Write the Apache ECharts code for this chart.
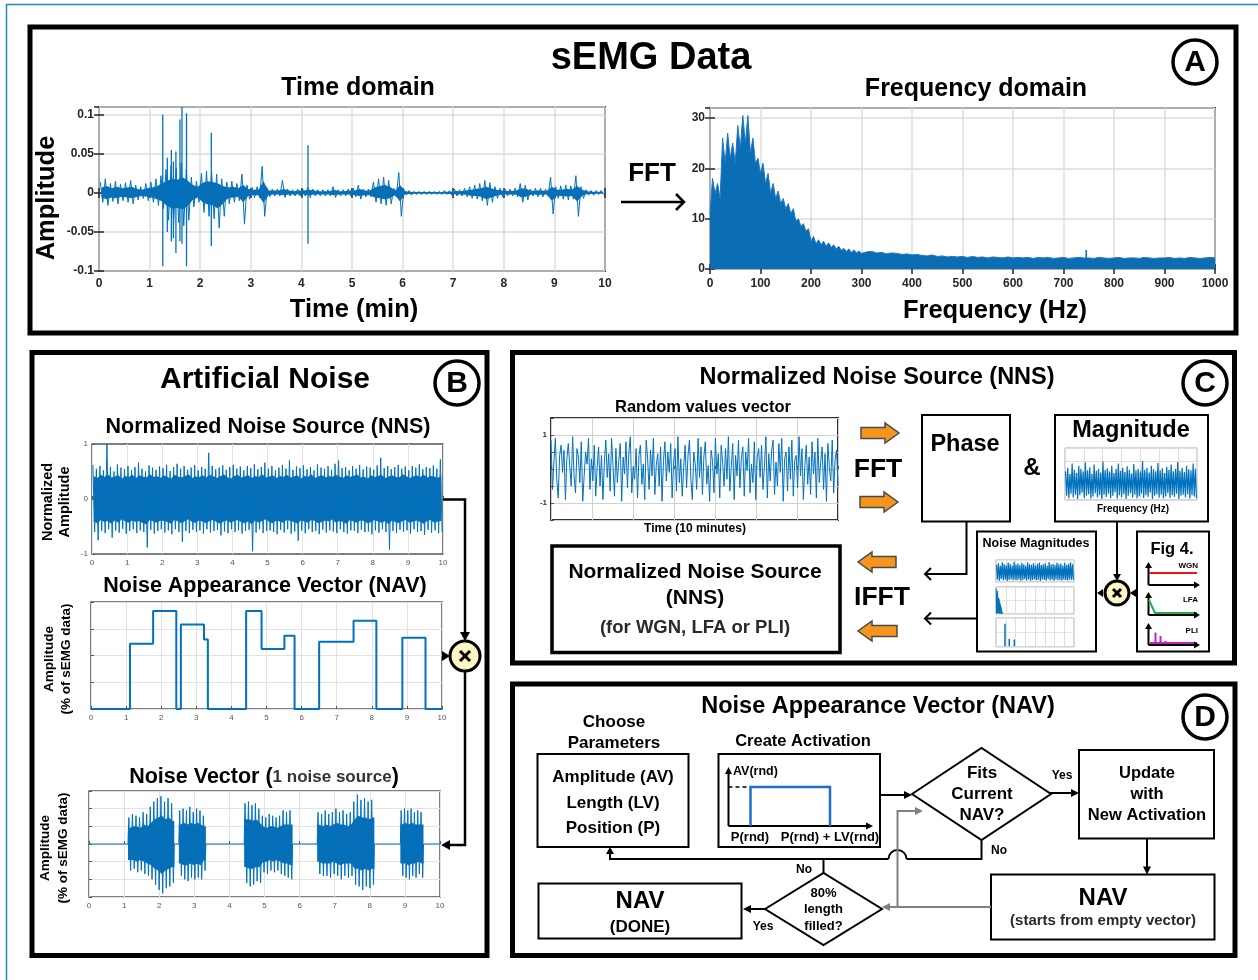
<!DOCTYPE html>
<html><head><meta charset="utf-8">
<script src="https://cdn.jsdelivr.net/npm/echarts@6/dist/echarts.min.js"></script>
<style>html,body{margin:0;padding:0;background:#fff}#c{width:1258px;height:980px}</style>
</head><body><div id="c"></div>
<script>
// ================= DATA =================
// Panel A – sEMG, time domain: per-0.1-min bin, peak envelope and dense-core envelope (units of 1e-3)
const semgBinMin = 0.1;
const semgHi = [
 14,18,12,15,11,13,16,10,8,12,
 14,18,22,30,35,32,38,30,20,15,
 25,28,27,24,18,14,15,12,24,10,
 7,8,34,6,5,5,16,5,4,5,
 5,7,5,4,4,4,8,4,4,5,
 6,10,5,5,14,18,20,16,6,26,
 4,3,2,2,2,2,2,2,3,3,
 5,4,6,8,10,12,16,13,8,6,
 5,5,6,12,10,5,6,6,5,20,
 8,9,10,9,22,8,4,3,3,3];
const semgLo = [
 -12,-16,-11,-14,-10,-12,-14,-9,-7,-10,
 -12,-16,-20,-35,-40,-38,-42,-35,-18,-12,
 -25,-30,-33,-45,-30,-14,-12,-10,-40,-8,
 -6,-6,-30,-5,-4,-4,-6,-4,-4,-4,
 -4,-6,-4,-4,-4,-4,-6,-4,-4,-4,
 -5,-8,-5,-5,-12,-14,-16,-14,-5,-30,
 -3,-3,-2,-2,-2,-2,-2,-2,-2,-3,
 -4,-4,-5,-7,-8,-10,-16,-12,-7,-5,
 -4,-4,-5,-12,-9,-4,-5,-5,-4,-27,
 -7,-8,-9,-8,-30,-7,-3,-3,-2,-2];
const semgCoreHi = [
 7,9,6,8,6,7,8,5,4,6,
 7,9,12,16,18,17,20,16,10,8,
 13,15,14,12,9,7,8,6,10,5,
 4,4,15,3,3,3,5,3,2,3,
 3,4,3,2,2,2,4,2,2,3,
 3,5,3,3,7,9,10,8,3,10,
 2,1.5,1,1,1,1,1,1,1.5,1.5,
 2.5,2,3,4,5,6,8,6,4,3,
 2.5,2.5,3,6,5,2.5,3,3,2.5,8,
 4,4.5,5,4.5,9,4,2,1.5,1.5,1.5];
const semgCoreLo = [
 -6,-8,-6,-7,-5,-6,-7,-5,-4,-5,
 -6,-8,-11,-17,-20,-19,-21,-17,-9,-6,
 -12,-15,-16,-20,-14,-7,-6,-5,-12,-4,
 -3,-3,-13,-3,-2,-2,-3,-2,-2,-2,
 -2,-3,-2,-2,-2,-2,-3,-2,-2,-2,
 -3,-4,-3,-3,-6,-7,-8,-7,-3,-11,
 -1.5,-1.5,-1,-1,-1,-1,-1,-1,-1,-1.5,
 -2,-2,-2.5,-3.5,-4,-5,-8,-6,-3.5,-2.5,
 -2,-2,-2.5,-6,-4.5,-2,-2.5,-2.5,-2,-10,
 -3.5,-4,-4.5,-4,-11,-3.5,-1.5,-1.5,-1,-1];
// isolated spikes (time in min, max, min)
const semgSpikeT  = [1.26, 1.35, 1.43, 1.47, 1.52, 1.60, 1.64, 1.73, 2.22, 4.13];
const semgSpikeHi = [0.100, 0.045, 0.055, 0.040, 0.053, 0.094, 0.110, 0.102, 0.077, 0.061];
const semgSpikeLo = [-0.094, -0.050, -0.062, -0.058, -0.077, -0.062, -0.065, -0.094, -0.068, -0.065];

// Panel A – frequency domain magnitude envelope
const freqFineStepHz = 5;      // 0..300 Hz
const freqFine = [11,18,15,17,14,26,21,27,22,25,21,28.5,24,30.5,25,30.5,23,26,21,22,
 19,21,17,19,15,17,14,15.5,13,14,12,13,11,12,9.5,10,8.5,9,7.5,8,
 5.5,6.5,5,5.8,4.8,5.5,4.5,5.2,4.3,4.8,4,4.5,3.7,4.1,3.5,4,3.3,3.8,3.2,3.6,3.1];
const freqCoarseStartHz = 310, freqCoarseStepHz = 10;   // 310..1000 Hz
const freqCoarse = [3.4,3.5,3.2,3.3,3.0,3.2,3.1,2.9,3.0,2.8,
 2.9,2.7,2.6,2.8,2.5,2.6,2.4,2.5,2.4,2.5,
 2.3,2.5,2.3,2.4,2.2,2.4,2.3,2.2,2.4,2.2,
 2.3,2.2,2.3,2.1,2.3,2.2,2.3,2.1,2.2,2.3,
 2.1,2.2,2.3,2.2,2.2,2.1,2.3,2.2,2.1,2.2,
 2.3,2.1,2.2,2.2,2.1,2.3,2.2,2.1,2.2,2.2,
 2.3,2.1,2.2,2.1,2.3,2.2,2.1,2.2,2.3,2.2];
const freqSpikeHz = [745];
const freqSpikeMag = [3.8];

// Panel B – Normalized Noise Source (per 0.1 min): peaks and dense core
const nnsBinMin = 0.1;
const nnsHi = [
 0.62,0.55,0.60,0.52,1.00,0.58,0.50,0.63,0.57,0.54,
 0.60,0.52,0.58,0.66,0.55,0.50,0.61,0.57,0.53,0.59,
 0.56,0.62,0.51,0.58,0.64,0.55,0.60,0.53,0.57,0.62,
 0.52,0.58,0.55,0.84,0.60,0.54,0.57,0.61,0.53,0.58,
 0.62,0.55,0.59,0.52,0.60,0.56,0.63,0.54,0.58,0.66,
 0.55,0.60,0.52,0.57,0.62,0.55,0.70,0.53,0.59,0.56,
 0.61,0.54,0.58,0.52,0.63,0.57,0.55,0.60,0.53,0.64,
 0.70,0.56,0.58,0.52,0.60,0.55,0.62,0.54,0.59,0.57,
 0.53,0.61,0.75,0.56,0.60,0.54,0.58,0.62,0.55,0.59,
 0.52,0.60,0.57,0.63,0.54,0.58,0.56,0.61,0.55,0.72];
const nnsLo = [
 -0.60,-0.75,-0.58,-0.62,-0.55,-0.70,-0.57,-0.61,-0.54,-0.63,
 -0.58,-0.55,-0.62,-0.57,-0.60,-0.88,-0.56,-0.63,-0.58,-0.55,
 -0.61,-0.57,-0.64,-0.55,-0.60,-0.78,-0.58,-0.62,-0.56,-0.60,
 -0.57,-0.63,-0.55,-0.61,-0.58,-0.56,-0.66,-0.59,-0.62,-0.55,
 -0.60,-0.57,-0.63,-0.58,-0.56,-0.95,-0.61,-0.55,-0.62,-0.58,
 -0.57,-0.60,-0.64,-0.56,-0.61,-0.55,-0.63,-0.59,-0.76,-0.57,
 -0.62,-0.55,-0.60,-0.58,-0.64,-0.56,-0.61,-0.57,-0.59,-0.62,
 -0.55,-0.60,-0.63,-0.57,-0.58,-0.62,-0.56,-0.60,-0.59,-0.64,
 -0.57,-0.61,-0.55,-0.60,-0.92,-0.58,-0.62,-0.56,-0.60,-0.57,
 -0.63,-0.55,-0.60,-0.58,-0.65,-0.56,-0.61,-0.57,-0.62,-0.60];
const nnsCoreHi = [
 0.42,0.38,0.44,0.40,0.45,0.39,0.41,0.43,0.37,0.42,
 0.40,0.44,0.38,0.43,0.41,0.39,0.45,0.40,0.42,0.38,
 0.43,0.40,0.37,0.44,0.41,0.39,0.42,0.45,0.38,0.41,
 0.40,0.43,0.39,0.44,0.42,0.38,0.41,0.45,0.40,0.37,
 0.42,0.44,0.39,0.41,0.43,0.38,0.42,0.40,0.45,0.39,
 0.41,0.43,0.38,0.42,0.40,0.44,0.39,0.41,0.43,0.37,
 0.42,0.40,0.45,0.38,0.41,0.43,0.39,0.42,0.40,0.44,
 0.41,0.38,0.43,0.40,0.42,0.45,0.39,0.41,0.37,0.43,
 0.40,0.42,0.44,0.38,0.41,0.43,0.40,0.39,0.45,0.42,
 0.38,0.41,0.43,0.40,0.44,0.39,0.42,0.41,0.38,0.43];
const nnsCoreLo = [
 -0.41,-0.44,-0.38,-0.42,-0.40,-0.45,-0.39,-0.43,-0.37,-0.41,
 -0.43,-0.39,-0.42,-0.40,-0.44,-0.46,-0.38,-0.41,-0.43,-0.39,
 -0.40,-0.42,-0.45,-0.38,-0.41,-0.44,-0.40,-0.37,-0.42,-0.43,
 -0.39,-0.41,-0.44,-0.40,-0.38,-0.42,-0.45,-0.41,-0.39,-0.43,
 -0.40,-0.38,-0.42,-0.44,-0.41,-0.46,-0.39,-0.43,-0.40,-0.37,
 -0.42,-0.44,-0.39,-0.41,-0.43,-0.38,-0.40,-0.42,-0.45,-0.39,
 -0.41,-0.43,-0.38,-0.40,-0.44,-0.42,-0.39,-0.41,-0.37,-0.43,
 -0.40,-0.42,-0.45,-0.38,-0.41,-0.43,-0.39,-0.40,-0.44,-0.42,
 -0.38,-0.41,-0.43,-0.40,-0.46,-0.39,-0.42,-0.44,-0.40,-0.38,
 -0.43,-0.41,-0.39,-0.42,-0.45,-0.40,-0.38,-0.43,-0.41,-0.40];

// Panel B – Noise Appearance Vector (step function: change times, level in grid divisions)
const navTimes  = [0, 1.11, 1.77, 2.43, 2.56, 3.22, 3.33, 4.42, 4.86, 5.51, 5.80, 6.50, 7.48, 8.13, 8.87, 9.53, 10];
const navLevels = [0, 2.44, 3.66, 0,    3.16, 2.60, 0,    3.66, 2.24, 2.74, 0,    2.51, 3.30, 0,    2.66, 0,    0];

// Panel B – Noise Vector bursts (start/end in min; peak and core envelopes per sub-bin, grid divisions)
const nvStart = [1.11, 2.56, 4.42, 6.50, 8.87];
const nvEnd   = [2.43, 3.33, 5.80, 8.13, 9.53];
const nvHi = [
 [1.5,1.7,1.6,1.5,1.8,1.7,2.1,2.4,2.6,2.7,2.4,2.6,2.3],
 [1.9,2.0,1.9,2.1,1.8,2.0,1.9,1.6],
 [2.3,2.4,2.2,2.3,2.0,1.6,1.5,1.7,1.6,1.5,1.6,1.9,1.8,1.9],
 [1.8,1.7,1.9,1.7,1.8,2.0,1.8,1.9,1.7,1.8,2.4,2.8,2.5,2.6,2.4,2.5],
 [1.9,2.0,1.9,2.0,1.8,1.9,1.8]];
const nvLo = [
 [-1.5,-1.4,-1.6,-1.5,-1.7,-1.8,-2.0,-2.3,-2.6,-2.8,-2.5,-2.4,-2.2],
 [-1.8,-2.0,-2.1,-1.9,-2.0,-1.9,-2.0,-1.5],
 [-2.2,-2.4,-2.3,-2.1,-2.2,-1.6,-1.7,-1.5,-1.6,-1.5,-1.7,-1.8,-1.9,-2.0],
 [-1.7,-1.8,-1.8,-1.9,-1.7,-1.8,-2.0,-1.8,-1.9,-1.8,-2.3,-2.4,-2.6,-2.4,-2.5,-2.3],
 [-1.8,-1.9,-2.0,-1.8,-1.9,-1.7,-1.9]];
const nvCoreHi = [
 [0.9,1.0,1.0,0.9,1.1,1.0,1.2,1.4,1.5,1.6,1.4,1.5,1.3],
 [1.1,1.2,1.1,1.2,1.1,1.2,1.1,1.0],
 [1.4,1.4,1.3,1.4,1.2,1.0,0.9,1.0,1.0,0.9,1.0,1.1,1.1,1.1],
 [1.1,1.0,1.1,1.0,1.1,1.2,1.1,1.1,1.0,1.1,1.4,1.6,1.5,1.5,1.4,1.5],
 [1.1,1.2,1.1,1.2,1.1,1.1,1.1]];
const nvCoreLo = [
 [-0.9,-0.9,-1.0,-0.9,-1.0,-1.1,-1.2,-1.4,-1.5,-1.7,-1.5,-1.4,-1.3],
 [-1.1,-1.2,-1.2,-1.1,-1.2,-1.1,-1.2,-0.9],
 [-1.3,-1.4,-1.4,-1.3,-1.3,-1.0,-1.0,-0.9,-1.0,-0.9,-1.0,-1.1,-1.1,-1.2],
 [-1.0,-1.1,-1.1,-1.1,-1.0,-1.1,-1.2,-1.1,-1.1,-1.1,-1.4,-1.4,-1.5,-1.4,-1.5,-1.4],
 [-1.1,-1.1,-1.2,-1.1,-1.1,-1.0,-1.1]];

// Panel C – random values vector
const randVals = [
 0.85,-0.6,0.2,0.9,-0.3,-0.85,0.4,0.7,-0.1,0.55,-0.9,0.3,0.75,0.1,-0.5,0.95,-0.2,-0.7,0.6,0.35,
 -0.4,0.8,-0.95,-0.2,0.5,0.15,0.9,-0.6,0.3,-0.35,0.7,-0.8,0.05,0.65,-0.5,0.4,-0.9,0.2,0.85,-0.25,
 0.45,-0.65,0.9,0.1,-0.8,0.6,-0.4,0.25,0.75,-0.95,0.35,-0.15,0.8,-0.55,0.5,0.95,-0.7,0.05,-0.3,0.6,
 -0.85,0.4,0.7,-0.45,0.15,-0.9,0.85,0.3,-0.6,0.55,-0.2,0.9,-0.75,0.1,0.45,-0.5,0.65,-0.95,0.25,0.8,
 -0.35,0.5,-0.1,0.75,-0.85,0.2,0.6,-0.65,0.95,-0.4,0.3,-0.8,0.05,0.7,-0.55,0.4,0.85,-0.3,-0.9,0.5,
 0.15,-0.6,0.9,-0.25,0.65,-0.75,0.35,0.8,-0.45,0.1,-0.95,0.55,0.25,-0.7,0.9,-0.15,0.45,-0.85,0.7,0.2,
 -0.5,0.6,-0.3,0.95,-0.65,0.05,0.75,-0.9,0.4,-0.2,0.85,-0.55,0.3,0.65,-0.8,0.5,-0.05,0.9,-0.7,0.15,
 -0.4,0.8,-0.9,0.35,0.6,-0.25,0.7,-0.6,0.1,0.95,-0.85,0.45,-0.35,0.55,0.85,-0.75,0.2,-0.5,0.75,-0.1,
 0.9,-0.95,0.3,0.5,-0.65,0.65,-0.3,0.85,-0.8,0.25,0.4,-0.55,0.95,-0.2,0.6,-0.9,0.1,0.7,-0.45,0.35,
 -0.75,0.8,-0.15,0.5,-0.85,0.9,-0.4,0.2,0.65,-0.6,0.45,-0.95,0.75,0.05,-0.35,0.85,-0.7,0.3,0.55,-0.5];
// Panel C – magnitude inset (normalized)
const magHi = [0.55,0.62,0.50,0.70,0.58,0.52,0.66,0.60,0.55,0.72,0.57,0.63,0.50,0.68,0.56,0.60,0.53,0.74,0.58,0.61,
 0.55,0.66,0.52,0.60,0.70,0.56,0.62,0.54,0.65,0.58,0.51,0.69,0.57,0.60,0.55,0.75,0.58,0.62,0.53,0.66,
 0.59,0.55,0.71,0.57,0.61,0.52,0.64,0.58,0.68,0.55,0.60,0.73,0.56,0.62,0.54,0.66,0.59,0.57,0.70,0.60];
const magLo = [0.08,0.03,0.12,0.05,0.10,0.02,0.09,0.14,0.04,0.08,0.11,0.03,0.07,0.13,0.05,0.09,0.02,0.10,0.06,0.12,
 0.04,0.08,0.15,0.03,0.09,0.06,0.11,0.02,0.08,0.13,0.05,0.10,0.03,0.07,0.12,0.04,0.09,0.06,0.14,0.02,
 0.08,0.11,0.05,0.10,0.03,0.07,0.13,0.04,0.09,0.06,0.12,0.02,0.08,0.10,0.05,0.11,0.03,0.09,0.07,0.04];
// Panel C – noise magnitudes (WGN, LFA, PLI), normalized
const wgnHi = [0.78,0.85,0.74,0.90,0.80,0.76,0.88,0.82,0.75,0.92,0.79,0.84,0.77,0.87,0.80,0.74,0.90,0.81,0.78,0.86,
 0.75,0.83,0.89,0.77,0.80,0.85,0.74,0.91,0.79,0.82,0.76,0.88,0.80,0.84,0.75,0.87,0.78,0.83,0.90,0.80];
const wgnLo = [0.10,0.06,0.14,0.08,0.12,0.05,0.09,0.13,0.07,0.10,0.08,0.12,0.06,0.09,0.14,0.07,0.11,0.06,0.09,0.13,
 0.08,0.10,0.05,0.12,0.09,0.07,0.13,0.08,0.10,0.06,0.12,0.08,0.09,0.06,0.11,0.09,0.07,0.12,0.09,0.10];
const lfaSpanX = 0.09;
const lfaHi = [0.95,0.75,0.85,0.60,0.55,0.45,0.35,0.25,0.12,0.05];
const lfaLo = [0.02,0.05,0.02,0.04,0.03,0.02,0.03,0.02,0.01,0.01];
const pliFreq = [0.115, 0.17, 0.235];
const pliAmp  = [0.80, 0.28, 0.26];

// ================= BUILD =================
const BLUE = '#0072BD';
const FILL = '#0b6db4';
const FONT = '"Liberation Sans", Arial, Helvetica, sans-serif';

function zigzag(t0, step, hi, lo, scale) {
  const out = [];
  for (let i = 0; i < hi.length; i++) {
    out.push([t0 + step * (i + 0.25), hi[i] * scale], [t0 + step * (i + 0.75), lo[i] * scale]);
  }
  return out;
}
function centers(t0, step, n) { const c = []; for (let i = 0; i < n; i++) c.push(t0 + step * (i + 0.5)); return c; }

const semgData = zigzag(0, semgBinMin, semgHi, semgLo, 0.001);
const semgX = centers(0, semgBinMin, semgHi.length);
const freqData = freqFine.map((v, i) => [i * freqFineStepHz, v])
  .concat(freqCoarse.map((v, i) => [freqCoarseStartHz + i * freqCoarseStepHz, v]));
const nnsData = zigzag(0, nnsBinMin, nnsHi, nnsLo, 1);
const nnsX = centers(0, nnsBinMin, nnsHi.length);
const navData = navTimes.map((t, i) => [t, navLevels[i]]);
const nvData = [[0, 0]];
const nvBands = [];
nvStart.forEach((s, b) => {
  const e = nvEnd[b], n = nvHi[b].length, step = (e - s) / n;
  nvData.push([s, 0]);
  zigzag(s, step, nvHi[b], nvLo[b], 1).forEach(p => nvData.push(p));
  nvData.push([e, 0]);
  const hs = nvCoreHi[b], ls = nvCoreLo[b];
  nvBands.push({x: [s].concat(centers(s, step, n), [e]), hi: [hs[0]].concat(hs, [hs[n - 1]]), lo: [ls[0]].concat(ls, [ls[n - 1]])});
});
nvData.push([10, 0]);
const randData = randVals.map((v, i) => [i * 7 / (randVals.length - 1), v]);
const magData = zigzag(0, 7 / magHi.length, magHi, magLo, 1);
const wgnData = zigzag(0, 1 / wgnHi.length, wgnHi, wgnLo, 1);
const lfaData = zigzag(0, lfaSpanX / lfaHi.length, lfaHi, lfaLo, 1);

// ---- grids / axes ----
const grids = [], xAxes = [], yAxes = [], series = [];
const lblA = {fontSize: 12, fontWeight: 'bold', color: '#262626', fontFamily: FONT};
const lblB = {fontSize: 8, color: '#555', fontFamily: FONT};
function grid(left, top, width, height, border, bw) {
  grids.push({left, top, width, height, show: true, borderColor: border, borderWidth: bw, containLabel: false});
  return grids.length - 1;
}
function axis(list, o) { list.push(Object.assign({type: 'value', axisLine: {show: false}}, o)); return list.length - 1; }
const tickA = {inside: true, length: 5, lineStyle: {color: '#262626', width: 1.5}};
const splitA = {show: true, lineStyle: {color: '#dcdcdc', width: 1.5}};

// A time
const gT = grid(99, 107, 506, 164, '#262626', 2);
const xT = axis(xAxes, {gridIndex: gT, min: 0, max: 10, interval: 1, axisTick: tickA, splitLine: splitA,
  axisLabel: Object.assign({margin: 7}, lblA)});
axis(xAxes, {gridIndex: gT, position: 'top', min: 0, max: 10, interval: 1, axisTick: tickA, splitLine: {show: false}, axisLabel: {show: false}});
const yT = axis(yAxes, {gridIndex: gT, min: -0.1, max: 0.11, interval: 0.05, axisTick: tickA, splitLine: splitA,
  axisLabel: Object.assign({margin: 5, showMaxLabel: false, formatter: v => (v > 0.105 ? '' : String(+v.toFixed(2)))}, lblA)});
axis(yAxes, {gridIndex: gT, position: 'right', min: -0.1, max: 0.11, interval: 0.05, axisTick: tickA, splitLine: {show: false}, axisLabel: {show: false}});
// A freq
const gF = grid(710, 108, 505, 161, '#262626', 2);
const xF = axis(xAxes, {gridIndex: gF, min: 0, max: 1000, interval: 100, axisTick: tickA, splitLine: splitA,
  axisLabel: Object.assign({margin: 9, formatter: v => String(v)}, lblA)});
axis(xAxes, {gridIndex: gF, position: 'top', min: 0, max: 1000, interval: 100, axisTick: tickA, splitLine: {show: false}, axisLabel: {show: false}});
const yF = axis(yAxes, {gridIndex: gF, min: 0, max: 32, interval: 10, axisTick: tickA, splitLine: splitA,
  axisLabel: Object.assign({margin: 5, showMaxLabel: false, formatter: v => (v > 31 ? '' : String(v))}, lblA)});
axis(yAxes, {gridIndex: gF, position: 'right', min: 0, max: 32, interval: 10, axisTick: tickA, splitLine: {show: false}, axisLabel: {show: false}});

const tickB = {inside: true, length: 3, lineStyle: {color: '#555', width: 1}};
const splitB = {show: true, lineStyle: {color: '#e2e2e2', width: 1}};
// B NNS
const gN = grid(92, 444, 351, 110, '#555', 1.5);
const xN = axis(xAxes, {gridIndex: gN, min: 0, max: 10, interval: 1, axisTick: tickB, splitLine: splitB, axisLabel: Object.assign({margin: 5}, lblB)});
const yN = axis(yAxes, {gridIndex: gN, min: -1, max: 1, interval: 1, axisTick: tickB, splitLine: {show: false}, axisLabel: Object.assign({margin: 4}, lblB)});
// B NAV
const gV = grid(91, 602, 351, 107, '#555', 1.5);
const xV = axis(xAxes, {gridIndex: gV, min: 0, max: 10, interval: 1, axisTick: tickB, splitLine: splitB, axisLabel: Object.assign({margin: 5}, lblB)});
const yV = axis(yAxes, {gridIndex: gV, min: 0, max: 4, interval: 1, axisTick: tickB, splitLine: splitB, axisLabel: {show: false}});
// B Noise vector
const gNV = grid(89, 791, 351, 106, '#555', 1.5);
const xNV = axis(xAxes, {gridIndex: gNV, min: 0, max: 10, interval: 1, axisTick: tickB, splitLine: splitB, axisLabel: Object.assign({margin: 5}, lblB)});
const yNV = axis(yAxes, {gridIndex: gNV, min: -3, max: 3, interval: 1, axisTick: tickB, splitLine: splitB, axisLabel: {show: false}});
// C random
const gR = grid(551, 418, 287, 102, '#333', 2);
const xR = axis(xAxes, {gridIndex: gR, min: 0, max: 7, interval: 1, axisTick: tickB, splitLine: {show: true, lineStyle: {color: '#d0d0d0'}}, axisLabel: {show: false}});
const yR = axis(yAxes, {gridIndex: gR, min: -1.5, max: 1.5, interval: 0.5, axisTick: tickB, splitLine: {show: true, lineStyle: {color: '#d0d0d0'}},
  axisLabel: Object.assign({margin: 4, formatter: v => (Math.abs(Math.abs(v) - 1) < 1e-6 ? String(v) : '')}, lblB, {fontWeight: 'bold', color: '#333'})});
// C magnitude inset
const gM = grid(1065, 448, 132, 52, '#aaa', 1);
const xM = axis(xAxes, {gridIndex: gM, min: 0, max: 7, interval: 1, axisTick: {show: false}, splitLine: {show: true, lineStyle: {color: '#ddd'}}, axisLabel: {show: false}});
const yM = axis(yAxes, {gridIndex: gM, min: 0, max: 1, interval: 0.25, axisTick: {show: false}, splitLine: {show: true, lineStyle: {color: '#ddd'}}, axisLabel: {show: false}});
// C noise magnitudes insets
function miniGrid(top, h) {
  const g = grid(996, top, 78, h, '#aaa', 1);
  const xi = axis(xAxes, {gridIndex: g, min: 0, max: 1, interval: 0.125, axisTick: {show: false}, splitLine: {show: true, lineStyle: {color: '#ddd'}}, axisLabel: {show: false}});
  const yi = axis(yAxes, {gridIndex: g, min: 0, max: 1, interval: 0.5, axisTick: {show: false}, splitLine: {show: true, lineStyle: {color: '#e6e6e6'}}, axisLabel: {show: false}});
  return [xi, yi];
}
const [xW, yW] = miniGrid(560, 22);
const [xL, yL] = miniGrid(587, 27);
const [xP, yP] = miniGrid(618, 29);

// ---- series ----
function lineS(xi, yi, data, w, extra) {
  return Object.assign({type: 'line', xAxisIndex: xi, yAxisIndex: yi, data, symbol: 'none', showSymbol: false, silent: true,
    animation: false, clip: true, lineStyle: {color: BLUE, width: w}, itemStyle: {color: BLUE}}, extra || {});
}
function spikeS(xi, yi, ts, his, los, color, w) {
  return {type: 'custom', xAxisIndex: xi, yAxisIndex: yi, silent: true, animation: false, clip: true,
    data: ts.map((t, i) => [t, his[i], los[i]]), encode: {x: 0, y: [1, 2]},
    renderItem: (p, api) => {
      const a = api.coord([api.value(0), api.value(1)]), b = api.coord([api.value(0), api.value(2)]);
      return {type: 'line', shape: {x1: a[0], y1: a[1], x2: b[0], y2: b[1]}, style: {stroke: color, lineWidth: w}};
    }};
}
// filled core band (between lower and upper core envelope values), drawn through the axes' scales
function bandS(xi, yi, bands, scale, color) {
  return {type: 'custom', xAxisIndex: xi, yAxisIndex: yi, silent: true, animation: false, clip: true,
    data: bands.map((b, i) => [b.x[0], b.hi[0] * scale, i]), encode: {x: 0, y: 1},
    renderItem: (p, api) => {
      const b = bands[p.dataIndex], pts = [];
      for (let i = 0; i < b.x.length; i++) pts.push(api.coord([b.x[i], b.hi[i] * scale]));
      for (let i = b.x.length - 1; i >= 0; i--) pts.push(api.coord([b.x[i], b.lo[i] * scale]));
      return {type: 'polygon', shape: {points: pts}, style: {fill: color}};
    }};
}
series.push(lineS(xT, yT, semgData, 1));
series.push(bandS(xT, yT, [{x: semgX, hi: semgCoreHi, lo: semgCoreLo}], 0.001, FILL));
series.push(spikeS(xT, yT, semgSpikeT, semgSpikeHi, semgSpikeLo, BLUE, 1.3));
series.push(lineS(xF, yF, freqData, 1, {areaStyle: {color: FILL, opacity: 1}, lineStyle: {color: '#1a78c0', width: 1}}));
series.push(spikeS(xF, yF, freqSpikeHz, freqSpikeMag, freqSpikeHz.map(() => 0), BLUE, 1.5));
series.push(lineS(xN, yN, nnsData, 1));
series.push(bandS(xN, yN, [{x: nnsX, hi: nnsCoreHi, lo: nnsCoreLo}], 1, FILL));
series.push(lineS(xV, yV, navData, 2, {step: 'end'}));
series.push(lineS(xNV, yNV, nvData, 1));
series.push(bandS(xNV, yNV, nvBands, 1, FILL));
series.push(lineS(xR, yR, randData, 1));
series.push(lineS(xM, yM, magData, 1.2));
series.push(lineS(xW, yW, wgnData, 1.2));
series.push(lineS(xL, yL, lfaData, 1));
series.push(spikeS(xP, yP, pliFreq, pliAmp, pliFreq.map(() => 0.03), BLUE, 1.5));

// ---- graphic (layout: boxes, labels, arrows) ----
const G = [];
function T(x, y, text, size, o) {
  o = o || {};
  const el = {type: 'text', x, y, rotation: o.rot || 0, z: 100, silent: true,
    style: {text, fontSize: size, fontWeight: o.weight || 'bold', fontFamily: FONT, fill: o.color || '#000',
      textAlign: o.align || 'center', align: o.align || 'center', textVerticalAlign: 'middle', verticalAlign: 'middle'}};
  if (o.lh) el.style.lineHeight = o.lh;
  if (o.rich) el.style.rich = o.rich;
  G.push(el);
}
function L(points, o) {
  o = o || {};
  G.push({type: 'polyline', z: o.z || 90, silent: true, shape: {points},
    style: {stroke: o.color || '#000', lineWidth: o.w || 2, fill: null, lineDash: o.dash || null}});
}
function R(x, y, w, h, o) {
  o = o || {};
  G.push({type: 'rect', z: o.z || 80, silent: true, shape: {x, y, width: w, height: h},
    style: {stroke: o.color || '#000', lineWidth: o.w || 2, fill: o.fill || 'none'}});
}
function Poly(points, o) {
  G.push({type: 'polygon', z: o.z || 95, silent: true, shape: {points},
    style: {fill: o.fill || '#000', stroke: o.stroke || null, lineWidth: o.w || 0}});
}
function Circ(cx, cy, r, o) {
  G.push({type: 'circle', z: o.z || 92, silent: true, shape: {cx, cy, r},
    style: {fill: o.fill || 'none', stroke: o.stroke || '#000', lineWidth: o.w || 2}});
}
function head(x, y, dir, o) {
  o = o || {};
  const l = o.len || 8, h = o.half || 4;
  let pts;
  if (dir === 'r') pts = [[x, y], [x - l, y - h], [x - l, y + h]];
  if (dir === 'l') pts = [[x, y], [x + l, y - h], [x + l, y + h]];
  if (dir === 'u') pts = [[x, y], [x - h, y + l], [x + h, y + l]];
  if (dir === 'd') pts = [[x, y], [x - h, y - l], [x + h, y - l]];
  Poly(pts, {fill: o.color || '#000'});
}
function chevron(x, y, dir, o) {
  o = o || {};
  const s = o.s || 7;
  const pts = dir === 'r' ? [[x - s, y - s], [x, y], [x - s, y + s]] : [[x + s, y - s], [x, y], [x + s, y + s]];
  L(pts, {w: o.w || 2.5, color: o.color});
}
function circled(cx, cy, letter) {
  Circ(cx, cy, 22, {w: 3.5});
  T(cx, cy + 1, letter, 30);
}
function times(cx, cy, r, d) {
  Circ(cx, cy, r, {fill: '#fdf6c2', w: 3, z: 96});
  L([[cx - d, cy - d], [cx + d, cy + d]], {w: 3, z: 98});
  L([[cx - d, cy + d], [cx + d, cy - d]], {w: 3, z: 98});
}
function blockArrow(x0, x1, y, dir) {
  const sh = 5.5, hh = 10, hl = 14;
  let pts;
  if (dir === 'r') pts = [[x0, y - sh], [x1 - hl, y - sh], [x1 - hl, y - hh], [x1, y], [x1 - hl, y + hh], [x1 - hl, y + sh], [x0, y + sh]];
  else pts = [[x1, y - sh], [x0 + hl, y - sh], [x0 + hl, y - hh], [x0, y], [x0 + hl, y + hh], [x0 + hl, y + sh], [x1, y + sh]];
  Poly(pts, {fill: '#f7941d', stroke: '#4a4a4a', w: 1.5});
}
function diamond(cx, cy, hw, hh) {
  Poly([[cx - hw, cy], [cx, cy - hh], [cx + hw, cy], [cx, cy + hh]], {fill: '#fff', stroke: '#000', w: 2, z: 85});
}

// outer thin frame
L([[6.5, 980], [6.5, 4.5], [1258, 4.5]], {color: '#1b8bc8', w: 1.5});
// panel frames
R(30, 27, 1206, 306, {w: 5});
R(32, 352.5, 455, 603, {w: 5});
R(512.5, 352.5, 722, 310.5, {w: 5});
R(512.5, 684, 722.5, 271.5, {w: 5});

// ---- Panel A ----
T(651, 59, 'sEMG Data', 38);
circled(1195, 62, 'A');
T(358, 88, 'Time domain', 25);
T(976, 89, 'Frequency domain', 25);
T(47, 198, 'Amplitude', 25.5, {rot: Math.PI / 2});
T(354, 310, 'Time (min)', 25.5);
T(995, 311, 'Frequency (Hz)', 25.5);
T(652, 174, 'FFT', 26);
L([[621, 202], [683, 202]], {w: 2.5});
chevron(684, 202, 'r', {s: 8});

// ---- Panel B ----
T(265, 380, 'Artificial Noise', 30);
circled(457, 383, 'B');
T(268, 427, 'Normalized Noise Source (NNS)', 21.5);
T(56, 502, 'Normalized\nAmplitude', 14.5, {rot: Math.PI / 2, lh: 17});
T(265, 586, 'Noise Appearance Vector (NAV)', 21.5);
T(58, 659, 'Amplitude\n(% of sEMG data)', 13.5, {rot: Math.PI / 2, lh: 17});
T(264, 777, '{a|Noise Vector (}{b|1 noise source}{a|)}', 21.5, {rich: {
  a: {fontSize: 21.5, fontWeight: 'bold', fontFamily: FONT, fill: '#000'},
  b: {fontSize: 17, fontWeight: 'bold', fontFamily: FONT, fill: '#333'}}});
T(54, 848, 'Amplitude\n(% of sEMG data)', 13.5, {rot: Math.PI / 2, lh: 18});
// B arrows & multiplier
L([[443, 499.5], [465, 499.5], [465, 633]], {w: 2.5});
head(465, 641, 'd', {len: 9, half: 5});
L([[442, 656], [443, 656]], {w: 2.5});
head(450, 656, 'r', {len: 8, half: 5});
L([[465, 671], [465, 845], [449, 845]], {w: 2.5});
head(441, 845, 'l', {len: 9, half: 5});
times(465, 656, 15, 5);

// ---- Panel C ----
T(877, 378, 'Normalized Noise Source (NNS)', 23.5);
circled(1205, 383, 'C');
T(703, 407, 'Random values vector', 16.5);
T(695, 529, 'Time (10 minutes)', 12);
blockArrow(861, 899, 433, 'r');
blockArrow(860, 898, 502, 'r');
blockArrow(858, 896, 562, 'l');
blockArrow(858, 897, 631, 'l');
T(878, 470, 'FFT', 26.5);
T(882, 598, 'IFFT', 26.5);
R(552, 546, 288, 106.5, {w: 3.5});
T(695, 572, 'Normalized Noise Source', 21);
T(695, 598, '(NNS)', 21);
T(695, 628, '(for WGN, LFA or PLI)', 18.5, {color: '#2a2a2a'});
R(922, 415, 88, 106.5, {w: 2});
T(965, 445, 'Phase', 23.5);
T(1032, 468, '&', 24);
R(1055, 415, 153, 106.5, {w: 2});
T(1131, 431, 'Magnitude', 23.5);
T(1133, 509, 'Frequency (Hz)', 10);
L([[966.5, 521.5], [966.5, 574], [926, 574]], {w: 2});
chevron(925, 574, 'l', {s: 6, w: 2});
L([[977, 618.5], [926, 618.5]], {w: 2});
chevron(925, 618.5, 'l', {s: 6, w: 2});
R(977, 531.5, 119, 120, {w: 2});
T(1036, 543.5, 'Noise Magnitudes', 12.5);
R(1137, 531.5, 72, 120, {w: 2});
T(1172, 549, 'Fig 4.', 16.5);
L([[1117, 521.5], [1117, 574]], {w: 2});
head(1117, 581, 'd', {len: 7, half: 4});
head(1130, 593, 'l', {len: 6, half: 4});
head(1097, 593, 'l', {len: 6, half: 4});
times(1117, 593, 12, 4);
// Fig 4 icons
function miniAxes(y0, y1) {
  L([[1148.5, y1], [1148.5, y0 + 5]], {w: 2});
  head(1148.5, y0, 'u', {len: 6, half: 3.5});
  L([[1148.5, y1], [1194, y1]], {w: 2});
  head(1200, y1, 'r', {len: 6, half: 3.5});
}
miniAxes(562, 585);
L([[1149, 573], [1197, 573]], {color: '#e8141c', w: 2});
T(1198, 566, 'WGN', 8, {align: 'right'});
miniAxes(592, 615);
L([[1149, 600], [1155, 613], [1197, 613]], {color: '#20b04b', w: 2});
T(1198, 600, 'LFA', 8, {align: 'right'});
miniAxes(623, 645);
L([[1150, 643], [1197, 643]], {color: '#c21fc4', w: 2});
L([[1155.5, 643], [1155.5, 632.5]], {color: '#c21fc4', w: 2});
L([[1160.5, 643], [1160.5, 636]], {color: '#c21fc4', w: 2});
L([[1165.5, 643], [1165.5, 641]], {color: '#c21fc4', w: 2});
T(1198, 631, 'PLI', 8, {align: 'right'});

// ---- Panel D ----
T(878, 707, 'Noise Appearance Vector (NAV)', 23.5);
circled(1205, 717, 'D');
T(614, 722, 'Choose', 17);
T(614, 743, 'Parameters', 17);
R(537.5, 754, 151, 93, {w: 2});
T(613, 777, 'Amplitude (AV)', 17);
T(613, 803, 'Length (LV)', 17);
T(613, 828, 'Position (P)', 17);
T(803, 741, 'Create Activation', 16.5);
R(718.5, 754, 161.5, 93, {w: 2});
L([[728.5, 826], [728.5, 774]], {w: 2});
head(728.5, 767, 'u', {len: 7, half: 3.5});
L([[728.5, 826], [866, 826]], {w: 2});
head(873, 826, 'r', {len: 7, half: 3.5});
L([[728.5, 787], [749, 787]], {w: 1.5, dash: [4, 3]});
L([[750.5, 826], [750.5, 787], [830, 787], [830, 826]], {color: '#1f6fd0', w: 2.5});
T(733, 772, 'AV(rnd)', 12.5, {align: 'left'});
T(750, 837, 'P(rnd)', 13);
T(830, 837, 'P(rnd) + LV(rnd)', 13);
L([[880, 795], [904, 795]], {w: 2});
head(912, 795, 'r', {len: 8, half: 4});
diamond(981.5, 794, 69.5, 46);
T(982, 773, 'Fits', 17);
T(982, 794, 'Current', 17);
T(982, 815, 'NAV?', 17);
T(1062, 776, 'Yes', 12);
L([[1050, 793], [1072, 793]], {w: 2});
head(1079, 793, 'r', {len: 8, half: 4});
R(1079, 750, 135, 88.5, {w: 2});
T(1147, 773, 'Update', 16.5);
T(1147, 794, 'with', 16.5);
T(1147, 815, 'New Activation', 16.5);
L([[1147, 838.5], [1147, 867]], {w: 2});
head(1147, 874.5, 'd', {len: 8, half: 4});
R(991, 874.5, 223.5, 65, {w: 2});
T(1103, 898, 'NAV', 24);
T(1103, 921, '(starts from empty vector)', 15, {color: '#2a2a2a'});
T(999, 851, 'No', 12);
L([[981.5, 840], [981.5, 859], [906.5, 859]], {w: 2});
G.push({type: 'arc', z: 90, silent: true, shape: {cx: 897.5, cy: 859, r: 9, startAngle: Math.PI, endAngle: Math.PI * 2, clockwise: true},
  style: {stroke: '#000', lineWidth: 2, fill: null}});
L([[888.5, 859], [610, 859], [610, 854]], {w: 2});
head(610, 847, 'u', {len: 7, half: 4});
L([[823.5, 859], [823.5, 873.5]], {w: 2});
T(804, 869.5, 'No', 12);
diamond(823.5, 909, 58.5, 36);
T(823.5, 893, '80%', 13);
T(823.5, 909.5, 'length', 13);
T(823.5, 926, 'filled?', 13);
T(763, 927, 'Yes', 12);
L([[765, 909], [750, 909]], {w: 2});
head(743, 909, 'l', {len: 8, half: 4});
R(538.5, 883.5, 203, 55, {w: 2});
T(640, 901, 'NAV', 24);
T(640, 927, '(DONE)', 17);
L([[991, 907], [890, 907]], {color: '#808080', w: 2});
head(882, 907, 'l', {len: 8, half: 4, color: '#808080'});
L([[897.5, 907], [897.5, 811], [915, 811]], {color: '#808080', w: 2});
head(923, 811, 'r', {len: 8, half: 4, color: '#808080'});

const chart = echarts.init(document.getElementById('c'), null, {renderer: 'canvas', width: 1258, height: 980});
chart.setOption({
  backgroundColor: '#fff',
  animation: false,
  grid: grids, xAxis: xAxes, yAxis: yAxes, series,
  graphic: {elements: G}
});
</script></body></html>
